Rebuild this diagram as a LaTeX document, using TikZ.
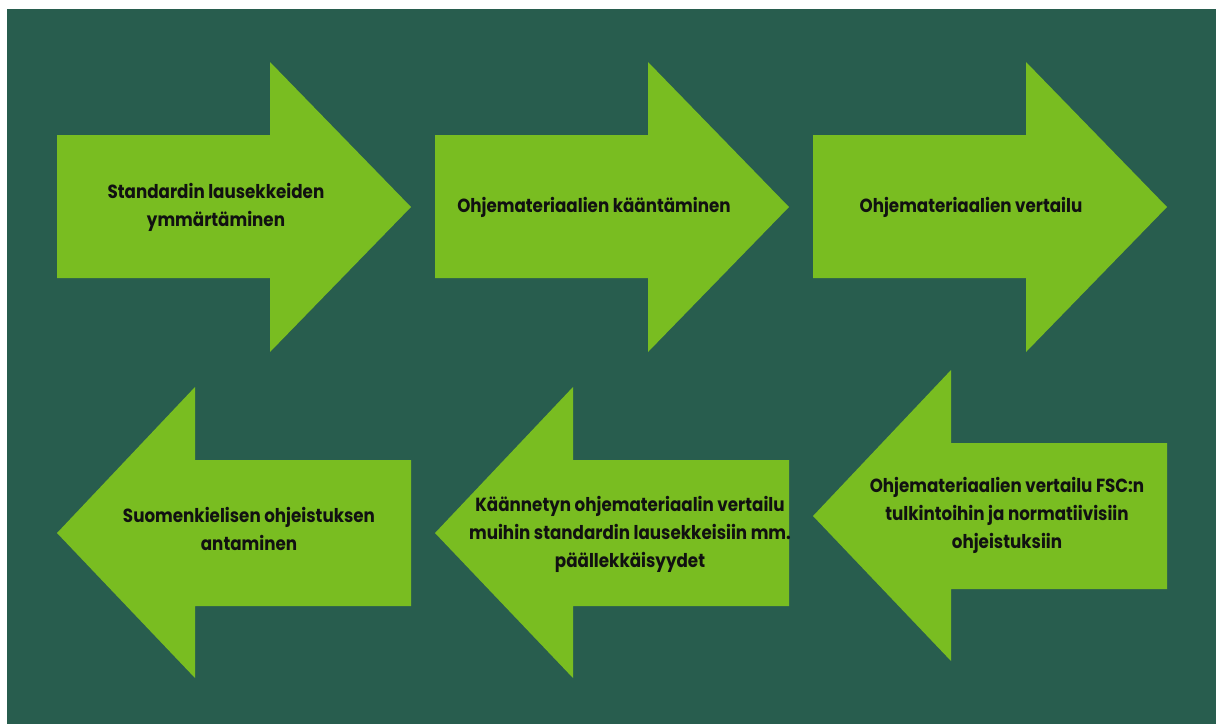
\documentclass[tikz,border=0pt]{standalone}
\usepackage{fontspec}
\setmainfont{Poppins}[FakeStretch=0.88]
\definecolor{bgreen}{HTML}{285D4E}
\definecolor{agreen}{HTML}{79BD21}
\definecolor{txt}{HTML}{111111}
\begin{document}
\begin{tikzpicture}[x=1pt,y=-1pt,
  arrowfill/.style={fill=agreen},
  lbl/.style={font=\bfseries\fontsize{19}{28}\selectfont, text=txt, align=center, inner sep=0pt, anchor=base}]
\useasboundingbox (0,0) rectangle (1216,724);
\fill[bgreen] (7,9) rectangle (1216,724);
% top row: right arrows
\foreach \dx in {0,378,756}{
  \fill[arrowfill] (57+\dx,135) -- (270+\dx,135) -- (270+\dx,62) -- (411+\dx,207)
     -- (270+\dx,352) -- (270+\dx,278) -- (57+\dx,278) -- cycle;
}
% bottom row: left arrows
\fill[arrowfill] (57,533) -- (195,387) -- (195,460) -- (411,460) -- (411,606) -- (195,606) -- (195,678) -- cycle;
\fill[arrowfill] (435,533) -- (573,387) -- (573,460) -- (789,460) -- (789,606) -- (573,606) -- (573,678) -- cycle;
\fill[arrowfill] (813,516) -- (951,370) -- (951,443) -- (1167,443) -- (1167,589) -- (951,589) -- (951,661) -- cycle;
% labels (anchor = baseline of last line)
\node[lbl] (t1) at (216,226) {Standardin lausekkeiden\\ymmärtäminen};
\node[lbl] (t2) at (594,212) {Ohjemateriaalien kääntäminen};
\node[lbl] (t3) at (971,212) {Ohjemateriaalien vertailu};
\node[lbl] (t4) at (249,550) {Suomenkielisen ohjeistuksen\\antaminen};
\node[lbl] (t5) at (630,567) {Käännetyn ohjemateriaalin vertailu\\muihin standardin lausekkeisiin mm.\\päällekkäisyydet};
\node[lbl] (t6) at (1007,548) {Ohjemateriaalien vertailu FSC:n\\tulkintoihin ja normatiivisiin\\ohjeistuksiin};
\end{tikzpicture}
\end{document}
